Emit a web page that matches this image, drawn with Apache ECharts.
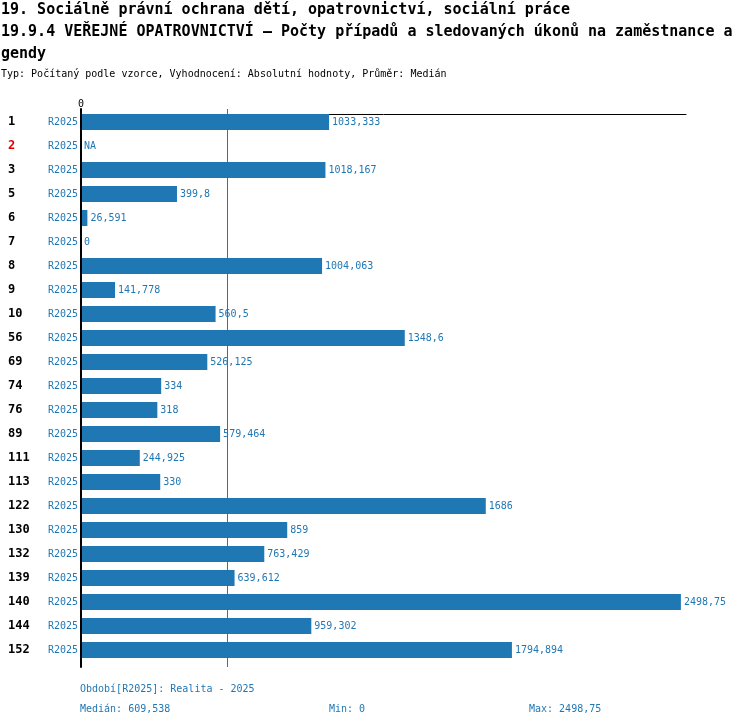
<!DOCTYPE html>
<html>
<head>
<meta charset="utf-8">
<script src="https://cdn.jsdelivr.net/npm/echarts@6/dist/echarts.min.js"></script>
<style>
html,body{margin:0;padding:0;background:#fff;}
#c{width:750px;height:726px;}
</style>
</head>
<body>
<div id="c"></div>
<script>
const categories = ['1','2','3','5','6','7','8','9','10','56','69','74','76','89','111','113','122','130','132','139','140','144','152'];
const periodLabel = 'R2025';
const values = [1033.333, null, 1018.167, 399.8, 26.591, 0, 1004.063, 141.778, 560.5, 1348.6, 526.125, 334, 318, 579.464, 244.925, 330, 1686, 859, 763.429, 639.612, 2498.75, 959.302, 1794.894];
const highlighted = ['2'];
const medianValue = 609.538;
const minValue = 0;
const maxValue = 2498.75;
const axisMax = 2520;

const titleText = '19. Sociálně právní ochrana dětí, opatrovnictví, sociální práce\n19.9.4 VEŘEJNÉ OPATROVNICTVÍ – Počty případů a sledovaných úkonů na zaměstnance a\ngendy';
const subText = 'Typ: Počítaný podle vzorce, Vyhodnocení: Absolutní hodnoty, Průměr: Medián';
const periodText = 'Období[R2025]: Realita - 2025';

const MONO = '"DejaVu Sans Mono", "Liberation Mono", monospace';
const BLUE = '#1f77b4';
const fmt = v => String(v).replace('.', ',');

const chart = echarts.init(document.getElementById('c'), null, {renderer: 'canvas'});

const barData = values.map(v => v === null
  ? {value: 0, label: {formatter: 'NA'}}
  : v);

const smallText = color => ({fontFamily: MONO, fontSize: 10, fontWeight: 'normal', color: color, lineHeight: 12});

chart.setOption({
  animation: false,
  backgroundColor: '#fff',
  title: [
    {text: titleText, left: 1, top: -1, padding: 0,
      textStyle: {fontFamily: MONO, fontSize: 15, fontWeight: 'bold', color: '#000', lineHeight: 22}},
    {text: subText, left: 1, top: 68, padding: 0, textStyle: smallText('#000')},
    {text: periodText, left: 80, top: 683, padding: 0, textStyle: smallText(BLUE)},
    {text: 'Medián: ' + fmt(medianValue), left: 80, top: 703, padding: 0, textStyle: smallText(BLUE)},
    {text: 'Min: ' + fmt(minValue), left: 329, top: 703, padding: 0, textStyle: smallText(BLUE)},
    {text: 'Max: ' + fmt(maxValue), left: 529, top: 703, padding: 0, textStyle: smallText(BLUE)}
  ],
  grid: [
    {left: 81, width: 605, top: 110, height: 552},
    {left: 81, width: 605, top: 109, height: 558}
  ],
  xAxis: [
    {gridIndex: 0, type: 'value', position: 'top', min: 0, max: axisMax, interval: axisMax, offset: -4,
      axisLine: {show: true, lineStyle: {color: '#000', width: 1}},
      axisTick: {show: false}, splitLine: {show: false},
      axisLabel: {show: true, margin: 5, fontFamily: MONO, fontSize: 10, color: '#000',
        formatter: v => (v === 0 ? '0' : '')}},
    {gridIndex: 1, type: 'value', min: 0, max: axisMax, z: 0,
      axisLine: {show: false},
      axisTick: {show: false, customValues: [medianValue]},
      axisLabel: {show: false, customValues: [medianValue]},
      splitLine: {show: true, lineStyle: {color: BLUE, width: 1, type: 'solid', opacity: 1}}}
  ],
  yAxis: [
    {gridIndex: 0, type: 'category', data: categories, inverse: true,
      axisLine: {show: false}, axisTick: {show: false}, splitLine: {show: false},
      axisLabel: {
        margin: 3,
        formatter: v => '{' + (highlighted.includes(v) ? 'nr' : 'n') + '|' + v + '}{r|' + periodLabel + '}',
        rich: {
          n: {fontFamily: MONO, fontSize: 12, fontWeight: 'bold', color: '#000', width: 39, align: 'left'},
          nr: {fontFamily: MONO, fontSize: 12, fontWeight: 'bold', color: '#e00000', width: 39, align: 'left'},
          r: {fontFamily: MONO, fontSize: 10, color: BLUE, width: 31, align: 'right'}
        }
      }},
    {gridIndex: 1, type: 'value', min: 0, max: 1, z: 10,
      axisLine: {show: true, onZero: false, lineStyle: {color: '#000', width: 2}},
      axisTick: {show: false}, axisLabel: {show: false}, splitLine: {show: false}}
  ],
  series: [
    {
      type: 'bar', xAxisIndex: 0, yAxisIndex: 0, z: 3,
      data: barData,
      barWidth: 16,
      itemStyle: {color: BLUE},
      label: {show: true, position: 'right', distance: 3, fontFamily: MONO, fontSize: 10, color: BLUE,
        formatter: p => fmt(p.value)}
    }
  ]
});
</script>
</body>
</html>
